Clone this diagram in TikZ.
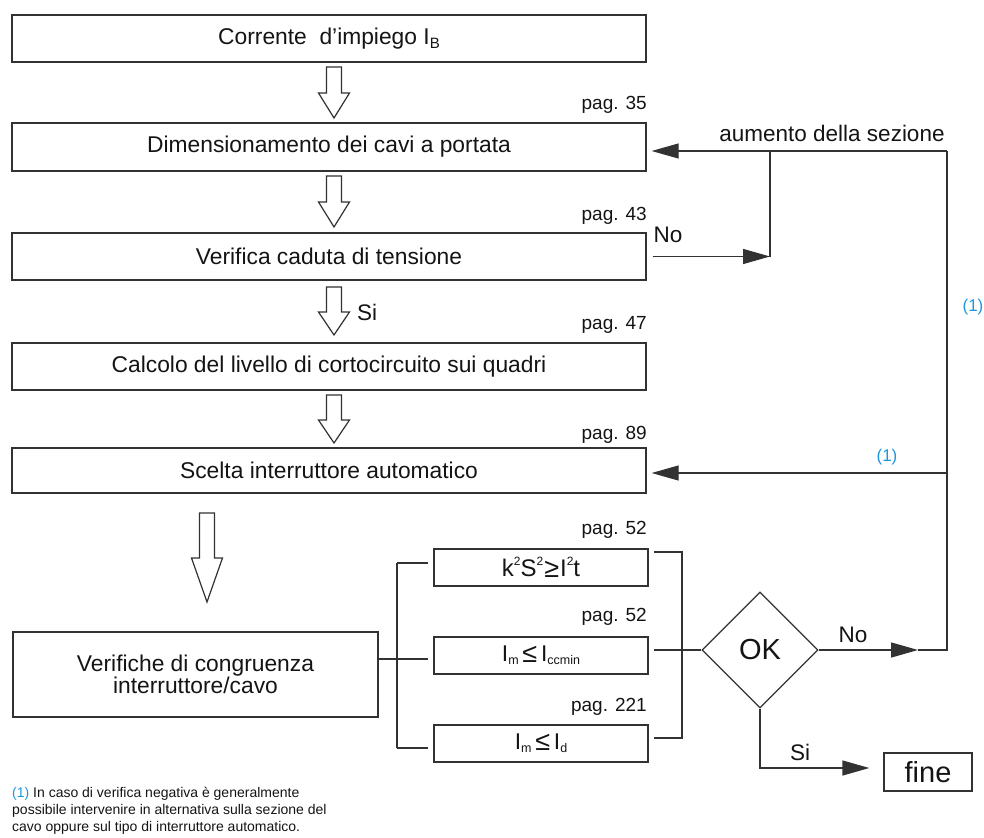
\documentclass[tikz,border=0pt]{standalone}
\usepackage{fontspec}
\setmainfont{Liberation Sans}
\usetikzlibrary{arrows.meta,shapes.geometric}
\definecolor{ln}{RGB}{50,50,50}
\definecolor{tx}{RGB}{20,20,20}
\definecolor{bl}{RGB}{30,150,220}
\newcommand\mysub[1]{\raisebox{-0.25ex}{\fontsize{12.5}{12.5}\selectfont #1}}
\newcommand\bigsub[1]{\raisebox{-0.35ex}{\fontsize{15}{15}\selectfont #1}}
\newcommand\mysup[1]{\raisebox{0.85ex}{\fontsize{12}{12}\selectfont #1}}
\newcommand\bigrel[1]{\raisebox{-0.1ex}{\fontsize{27}{27}\selectfont #1}}
\tikzset{
  box/.style={draw=ln, line width=1.3pt, inner sep=0pt, text=tx, align=center,
              font=\fontsize{22.8}{22}\selectfont},
  lab/.style={text=tx, inner sep=0pt, font=\fontsize{19}{19}\selectfont},
  txt/.style={text=tx, inner sep=0pt, font=\fontsize{22.5}{22}\selectfont},
  note/.style={text=bl, inner sep=0pt, font=\fontsize{17}{17}\selectfont},
  conn/.style={draw=ln, line width=1.3pt},
  arr/.style={conn, -{Triangle[length=27pt,width=15pt]}},
  pics/harrow/.style 2 args={code={
    \draw[ln, line width=1.2pt, fill=white, line join=miter]
      (-7.5,0) -- (7.5,0) -- (7.5,#1) -- (15.5,#1) -- (0,#1+#2)
      -- (-15.5,#1) -- (-7.5,#1) -- cycle;}}
}
\begin{document}
\begin{tikzpicture}[x=1pt,y=-1pt]
\useasboundingbox (0,0) rectangle (984,837);

% main boxes
\node[box, minimum width=634, minimum height=47] (b1) at (329,38.5) {Corrente\ \ d'impiego I\bigsub{B}};
\node[box, minimum width=634, minimum height=48] (b2) at (329,147) {Dimensionamento dei cavi a portata};
\node[box, minimum width=634, minimum height=47] (b3) at (329,256.5) {Verifica caduta di tensione};
\node[box, minimum width=634, minimum height=47] (b4) at (329,366.5) {Calcolo del livello di cortocircuito sui quadri};
\node[box, minimum width=634, minimum height=45] (b5) at (329,470.5) {Scelta interruttore automatico};
\node[box, minimum width=365, minimum height=85] (b6) at (195.5,674.5) {Verifiche di congruenza\\interruttore/cavo};

% check boxes
\node[box, minimum width=214, minimum height=37, font=\fontsize{24}{22}\selectfont] (fA) at (541,567.5)
  {k\mysup{2}S\mysup{2}\kern1pt\bigrel{≥}\kern1pt I\mysup{2}t};
\node[box, minimum width=214, minimum height=37] (fB) at (541,655.5) {I\mysub{m}\,\bigrel{≤}\,I\mysub{ccmin}};
\node[box, minimum width=214, minimum height=37] (fC) at (541,743.5) {I\mysub{m}\,\bigrel{≤}\,I\mysub{d}};

% decision and end
\node[draw=ln, line width=1.3pt, diamond, aspect=1, minimum size=116, inner sep=0pt,
      text=tx, font=\fontsize{29}{29}\selectfont] (ok) at (760,650) {OK};
\node[box, minimum width=88, minimum height=38, font=\fontsize{29}{29}\selectfont] (fine) at (928,772) {fine};

% page labels
\node[lab, anchor=east] (p35) at (647,105) {pag. 35};
\node[lab, anchor=east] (p43) at (647,216) {pag. 43};
\node[lab, anchor=east] (p47) at (647,325) {pag. 47};
\node[lab, anchor=east] (p89) at (647,435) {pag. 89};
\node[lab, anchor=east] (p52a) at (647,530) {pag. 52};
\node[lab, anchor=east] (p52b) at (647,617) {pag. 52};
\node[lab, anchor=east] (p221) at (647,707) {pag. 221};

% other labels
\node[txt] (aum) at (832,133) {aumento della sezione};
\node[txt] (no1) at (668,235) {No};
\node[txt] (si1) at (367,312) {Si};
\node[txt] (no2) at (853,635) {No};
\node[txt] (si2) at (800,752) {Si};
\node[note] (n1a) at (973,307) {(1)};
\node[note] (n1b) at (887,457) {(1)};

% hollow arrows
\pic at (334,67) {harrow={26}{25}};
\pic at (334,176) {harrow={26}{25}};
\pic at (334,287) {harrow={25}{23}};
\pic at (334,395) {harrow={25}{23}};
\pic at (207,513) {harrow={45}{44}};

% feedback connectors
\coordinate (rt) at (947,151);
\coordinate (rb) at (947,650);
\coordinate (r1) at (947,473);
\coordinate (j) at (770,151);
\coordinate (jb) at (770,256.5);
\coordinate (okno) at (918,650);
\draw[arr] (rt) -- ([xshift=5pt]b2.east |- rt);
\draw[conn] (j) -- (jb);
\draw[arr] ([xshift=6pt]b3.east) -- (jb);
\draw[arr] (r1) -- ([xshift=5pt]b5.east |- r1);
\draw[arr] (ok.east) -- (okno);
\draw[conn] (okno) -- (rb) -- (rt);

% left bracket
\coordinate (lt) at (397,563);
\coordinate (lm) at (397,659);
\coordinate (lb) at (397,748);
\draw[conn] (b6.east |- lm) -- (lm);
\draw[conn] (lt) -- (lb);
\draw[conn] (lt) -- ([xshift=-5pt]fA.west |- lt);
\draw[conn] (lm) -- ([xshift=-5pt]fB.west |- lm);
\draw[conn] (lb) -- ([xshift=-5pt]fC.west |- lb);

% right bracket
\coordinate (qt) at (682,552);
\coordinate (qm) at (682,650);
\coordinate (qb) at (682,738);
\draw[conn] ([xshift=5pt]fA.east |- qt) -- (qt) -- (qb) -- ([xshift=5pt]fC.east |- qb);
\draw[conn] ([xshift=5pt]fB.east |- qm) -- (qm) -- (ok.west);

% yes branch
\coordinate (sc) at (760,768);
\draw[arr] (ok.south) -- (sc) -- ([xshift=-14pt]fine.west |- sc);

% footnote
\node[anchor=north west, inner sep=0pt, align=left, text=tx,
      font=\fontsize{14}{17}\selectfont] (fn) at (12,787)
  {{\color{bl}(1)} In caso di verifica negativa è generalmente\\
   possibile intervenire in alternativa sulla sezione del\\
   cavo oppure sul tipo di interruttore automatico.};
\end{tikzpicture}
\end{document}
